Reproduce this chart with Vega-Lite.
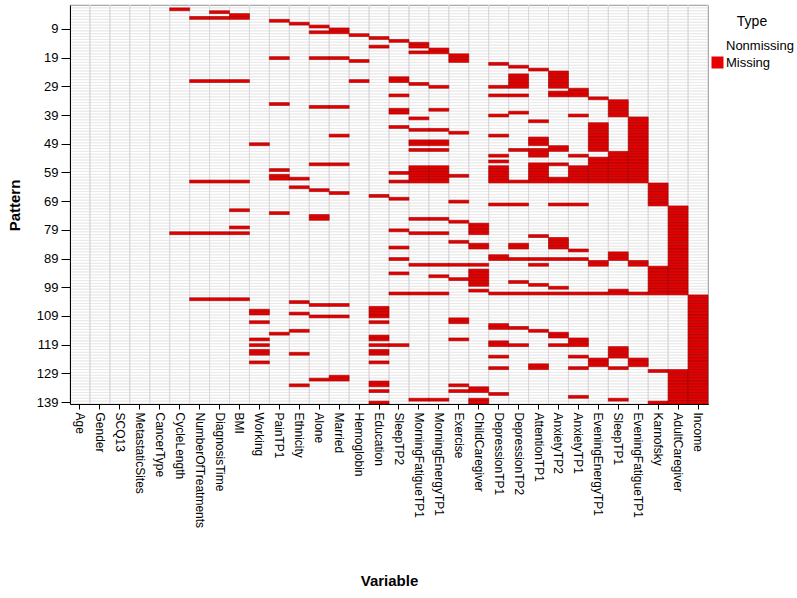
{
  "$schema": "https://vega.github.io/schema/vega-lite/v6.json",
  "width": 638,
  "height": 399,
  "autosize": {"type": "none"},
  "padding": {"left": 70, "top": 5, "right": 89, "bottom": 194},
  "background": "white",
  "config": {
    "font": "Liberation Sans",
    "view": {"stroke": "#333333", "strokeWidth": 1},
    "axis": {"domainColor": "#000000", "tickColor": "#000000", "labelColor": "#000000", "titleColor": "#000000", "grid": false}
  },
  "datasets": {
    "vars": [
      {"variable": "Age"}, {"variable": "Gender"}, {"variable": "SCQ13"}, {"variable": "MetastaticSites"},
      {"variable": "CancerType"}, {"variable": "CycleLength"}, {"variable": "NumberOfTreatments"}, {"variable": "DiagnosisTime"},
      {"variable": "BMI"}, {"variable": "Working"}, {"variable": "PainTP1"}, {"variable": "Ethnicity"},
      {"variable": "Alone"}, {"variable": "Married"}, {"variable": "Hemoglobin"}, {"variable": "Education"},
      {"variable": "SleepTP2"}, {"variable": "MorningFatigueTP1"}, {"variable": "MorningEnergyTP1"}, {"variable": "Exercise"},
      {"variable": "ChildCaregiver"}, {"variable": "DepressionTP1"}, {"variable": "DepressionTP2"}, {"variable": "AttentionTP1"},
      {"variable": "AnxietyTP2"}, {"variable": "AnxietyTP1"}, {"variable": "EveningEnergyTP1"}, {"variable": "SleepTP1"},
      {"variable": "EveningFatigueTP1"}, {"variable": "Karnofsky"}, {"variable": "AdultCaregiver"}, {"variable": "Income"}
    ],
    "patterns": [
      {"pattern": 1, "missing": []},
      {"pattern": 2, "missing": ["CycleLength"]},
      {"pattern": 3, "missing": ["DiagnosisTime"]},
      {"pattern": 4, "missing": ["BMI"]},
      {"pattern": 5, "missing": ["NumberOfTreatments","DiagnosisTime","BMI"]},
      {"pattern": 6, "missing": ["PainTP1"]},
      {"pattern": 7, "missing": ["Ethnicity"]},
      {"pattern": 8, "missing": ["Alone"]},
      {"pattern": 9, "missing": ["Married"]},
      {"pattern": 10, "missing": ["Alone","Married"]},
      {"pattern": 11, "missing": ["Hemoglobin"]},
      {"pattern": 12, "missing": ["Education"]},
      {"pattern": 13, "missing": ["SleepTP2"]},
      {"pattern": 14, "missing": ["MorningFatigueTP1"]},
      {"pattern": 15, "missing": ["Education","MorningFatigueTP1"]},
      {"pattern": 16, "missing": ["MorningEnergyTP1"]},
      {"pattern": 17, "missing": ["MorningFatigueTP1","MorningEnergyTP1"]},
      {"pattern": 18, "missing": ["Exercise"]},
      {"pattern": 19, "missing": ["PainTP1","Alone","Married","Exercise"]},
      {"pattern": 20, "missing": ["Hemoglobin","Exercise"]},
      {"pattern": 21, "missing": ["DepressionTP1"]},
      {"pattern": 22, "missing": ["DepressionTP2"]},
      {"pattern": 23, "missing": ["AttentionTP1"]},
      {"pattern": 24, "missing": ["AnxietyTP2"]},
      {"pattern": 25, "missing": ["DepressionTP2","AnxietyTP2"]},
      {"pattern": 26, "missing": ["SleepTP2","DepressionTP2","AnxietyTP2"]},
      {"pattern": 27, "missing": ["NumberOfTreatments","DiagnosisTime","BMI","Hemoglobin","SleepTP2","DepressionTP2","AnxietyTP2"]},
      {"pattern": 28, "missing": ["MorningFatigueTP1","DepressionTP2","AnxietyTP2"]},
      {"pattern": 29, "missing": ["MorningEnergyTP1","DepressionTP1","DepressionTP2","AnxietyTP2"]},
      {"pattern": 30, "missing": ["AnxietyTP1"]},
      {"pattern": 31, "missing": ["AnxietyTP2","AnxietyTP1"]},
      {"pattern": 32, "missing": ["SleepTP2","DepressionTP1","DepressionTP2","AnxietyTP2","AnxietyTP1"]},
      {"pattern": 33, "missing": ["EveningEnergyTP1"]},
      {"pattern": 34, "missing": ["SleepTP1"]},
      {"pattern": 35, "missing": ["PainTP1","SleepTP1"]},
      {"pattern": 36, "missing": ["Alone","Married","SleepTP1"]},
      {"pattern": 37, "missing": ["SleepTP2","MorningEnergyTP1","SleepTP1"]},
      {"pattern": 38, "missing": ["SleepTP2","DepressionTP2","SleepTP1"]},
      {"pattern": 39, "missing": ["DepressionTP1","AnxietyTP1","SleepTP1"]},
      {"pattern": 40, "missing": ["MorningFatigueTP1","EveningFatigueTP1"]},
      {"pattern": 41, "missing": ["AttentionTP1","EveningFatigueTP1"]},
      {"pattern": 42, "missing": ["EveningEnergyTP1","EveningFatigueTP1"]},
      {"pattern": 43, "missing": ["SleepTP2","EveningEnergyTP1","EveningFatigueTP1"]},
      {"pattern": 44, "missing": ["MorningFatigueTP1","MorningEnergyTP1","EveningEnergyTP1","EveningFatigueTP1"]},
      {"pattern": 45, "missing": ["Exercise","EveningEnergyTP1","EveningFatigueTP1"]},
      {"pattern": 46, "missing": ["Married","DepressionTP1","EveningEnergyTP1","EveningFatigueTP1"]},
      {"pattern": 47, "missing": ["AttentionTP1","EveningEnergyTP1","EveningFatigueTP1"]},
      {"pattern": 48, "missing": ["MorningFatigueTP1","MorningEnergyTP1","AttentionTP1","EveningEnergyTP1","EveningFatigueTP1"]},
      {"pattern": 49, "missing": ["Working","MorningFatigueTP1","MorningEnergyTP1","AttentionTP1","EveningEnergyTP1","EveningFatigueTP1"]},
      {"pattern": 50, "missing": ["AnxietyTP2","EveningEnergyTP1","EveningFatigueTP1"]},
      {"pattern": 51, "missing": ["MorningFatigueTP1","MorningEnergyTP1","DepressionTP2","AttentionTP1","AnxietyTP2","EveningEnergyTP1","EveningFatigueTP1"]},
      {"pattern": 52, "missing": ["AttentionTP1","SleepTP1","EveningFatigueTP1"]},
      {"pattern": 53, "missing": ["DepressionTP1","AttentionTP1","AnxietyTP1","SleepTP1","EveningFatigueTP1"]},
      {"pattern": 54, "missing": ["EveningEnergyTP1","SleepTP1","EveningFatigueTP1"]},
      {"pattern": 55, "missing": ["DepressionTP1","EveningEnergyTP1","SleepTP1","EveningFatigueTP1"]},
      {"pattern": 56, "missing": ["Alone","Married","AttentionTP1","AnxietyTP2","EveningEnergyTP1","SleepTP1","EveningFatigueTP1"]},
      {"pattern": 57, "missing": ["MorningFatigueTP1","MorningEnergyTP1","DepressionTP1","AttentionTP1","AnxietyTP1","EveningEnergyTP1","SleepTP1","EveningFatigueTP1"]},
      {"pattern": 58, "missing": ["PainTP1","MorningFatigueTP1","MorningEnergyTP1","DepressionTP1","AttentionTP1","AnxietyTP1","EveningEnergyTP1","SleepTP1","EveningFatigueTP1"]},
      {"pattern": 59, "missing": ["SleepTP2","MorningFatigueTP1","MorningEnergyTP1","DepressionTP1","AttentionTP1","AnxietyTP1","EveningEnergyTP1","SleepTP1","EveningFatigueTP1"]},
      {"pattern": 60, "missing": ["PainTP1","MorningFatigueTP1","MorningEnergyTP1","Exercise","DepressionTP1","AttentionTP1","AnxietyTP1","EveningEnergyTP1","SleepTP1","EveningFatigueTP1"]},
      {"pattern": 61, "missing": ["PainTP1","Ethnicity","MorningFatigueTP1","MorningEnergyTP1","DepressionTP1","AttentionTP1","AnxietyTP2","AnxietyTP1","EveningEnergyTP1","SleepTP1","EveningFatigueTP1"]},
      {"pattern": 62, "missing": ["NumberOfTreatments","DiagnosisTime","BMI","SleepTP2","MorningFatigueTP1","MorningEnergyTP1","DepressionTP1","DepressionTP2","AttentionTP1","AnxietyTP2","AnxietyTP1","EveningEnergyTP1","SleepTP1","EveningFatigueTP1"]},
      {"pattern": 63, "missing": ["Karnofsky"]},
      {"pattern": 64, "missing": ["Ethnicity","Karnofsky"]},
      {"pattern": 65, "missing": ["Alone","Karnofsky"]},
      {"pattern": 66, "missing": ["Married","Karnofsky"]},
      {"pattern": 67, "missing": ["Education","Karnofsky"]},
      {"pattern": 68, "missing": ["SleepTP2","Karnofsky"]},
      {"pattern": 69, "missing": ["Exercise","Karnofsky"]},
      {"pattern": 70, "missing": ["DepressionTP1","DepressionTP2","AnxietyTP2","AnxietyTP1","Karnofsky"]},
      {"pattern": 71, "missing": ["AdultCaregiver"]},
      {"pattern": 72, "missing": ["BMI","AdultCaregiver"]},
      {"pattern": 73, "missing": ["PainTP1","AdultCaregiver"]},
      {"pattern": 74, "missing": ["Alone","AdultCaregiver"]},
      {"pattern": 75, "missing": ["Alone","MorningFatigueTP1","MorningEnergyTP1","AdultCaregiver"]},
      {"pattern": 76, "missing": ["Exercise","AdultCaregiver"]},
      {"pattern": 77, "missing": ["ChildCaregiver","AdultCaregiver"]},
      {"pattern": 78, "missing": ["BMI","ChildCaregiver","AdultCaregiver"]},
      {"pattern": 79, "missing": ["SleepTP2","ChildCaregiver","AdultCaregiver"]},
      {"pattern": 80, "missing": ["CycleLength","NumberOfTreatments","DiagnosisTime","BMI","MorningFatigueTP1","MorningEnergyTP1","ChildCaregiver","AdultCaregiver"]},
      {"pattern": 81, "missing": ["AttentionTP1","AdultCaregiver"]},
      {"pattern": 82, "missing": ["AnxietyTP2","AdultCaregiver"]},
      {"pattern": 83, "missing": ["Exercise","AnxietyTP2","AdultCaregiver"]},
      {"pattern": 84, "missing": ["ChildCaregiver","DepressionTP2","AnxietyTP2","AdultCaregiver"]},
      {"pattern": 85, "missing": ["SleepTP2","ChildCaregiver","DepressionTP2","AnxietyTP2","AdultCaregiver"]},
      {"pattern": 86, "missing": ["AnxietyTP1","AdultCaregiver"]},
      {"pattern": 87, "missing": ["SleepTP1","AdultCaregiver"]},
      {"pattern": 88, "missing": ["DepressionTP1","SleepTP1","AdultCaregiver"]},
      {"pattern": 89, "missing": ["SleepTP2","DepressionTP1","DepressionTP2","AttentionTP1","AnxietyTP2","AnxietyTP1","SleepTP1","AdultCaregiver"]},
      {"pattern": 90, "missing": ["EveningEnergyTP1","EveningFatigueTP1","AdultCaregiver"]},
      {"pattern": 91, "missing": ["MorningFatigueTP1","MorningEnergyTP1","Exercise","ChildCaregiver","AttentionTP1","EveningEnergyTP1","EveningFatigueTP1","AdultCaregiver"]},
      {"pattern": 92, "missing": ["Karnofsky","AdultCaregiver"]},
      {"pattern": 93, "missing": ["ChildCaregiver","Karnofsky","AdultCaregiver"]},
      {"pattern": 94, "missing": ["SleepTP2","ChildCaregiver","Karnofsky","AdultCaregiver"]},
      {"pattern": 95, "missing": ["MorningEnergyTP1","ChildCaregiver","Karnofsky","AdultCaregiver"]},
      {"pattern": 96, "missing": ["Exercise","ChildCaregiver","Karnofsky","AdultCaregiver"]},
      {"pattern": 97, "missing": ["DepressionTP2","ChildCaregiver","Karnofsky","AdultCaregiver"]},
      {"pattern": 98, "missing": ["AttentionTP1","ChildCaregiver","Karnofsky","AdultCaregiver"]},
      {"pattern": 99, "missing": ["AnxietyTP2","Karnofsky","AdultCaregiver"]},
      {"pattern": 100, "missing": ["ChildCaregiver","SleepTP1","Karnofsky","AdultCaregiver"]},
      {"pattern": 101, "missing": ["SleepTP2","MorningFatigueTP1","MorningEnergyTP1","DepressionTP1","DepressionTP2","AttentionTP1","AnxietyTP2","AnxietyTP1","EveningEnergyTP1","SleepTP1","EveningFatigueTP1","Karnofsky","AdultCaregiver"]},
      {"pattern": 102, "missing": ["Income"]},
      {"pattern": 103, "missing": ["NumberOfTreatments","DiagnosisTime","BMI","Income"]},
      {"pattern": 104, "missing": ["Ethnicity","Income"]},
      {"pattern": 105, "missing": ["Alone","Married","Income"]},
      {"pattern": 106, "missing": ["Education","Income"]},
      {"pattern": 107, "missing": ["Working","Education","Income"]},
      {"pattern": 108, "missing": ["Working","Ethnicity","Education","Income"]},
      {"pattern": 109, "missing": ["Alone","Married","Education","Income"]},
      {"pattern": 110, "missing": ["Exercise","Income"]},
      {"pattern": 111, "missing": ["Working","Education","Exercise","Income"]},
      {"pattern": 112, "missing": ["DepressionTP1","Income"]},
      {"pattern": 113, "missing": ["DepressionTP1","DepressionTP2","Income"]},
      {"pattern": 114, "missing": ["Ethnicity","AttentionTP1","Income"]},
      {"pattern": 115, "missing": ["PainTP1","AnxietyTP2","Income"]},
      {"pattern": 116, "missing": ["Education","AnxietyTP2","Income"]},
      {"pattern": 117, "missing": ["Working","Education","Exercise","AnxietyTP1","Income"]},
      {"pattern": 118, "missing": ["DepressionTP1","AnxietyTP1","Income"]},
      {"pattern": 119, "missing": ["Working","Education","SleepTP2","DepressionTP1","DepressionTP2","AnxietyTP2","AnxietyTP1","Income"]},
      {"pattern": 120, "missing": ["SleepTP1","Income"]},
      {"pattern": 121, "missing": ["Working","Education","SleepTP1","Income"]},
      {"pattern": 122, "missing": ["Working","Ethnicity","Education","SleepTP1","Income"]},
      {"pattern": 123, "missing": ["DepressionTP1","AnxietyTP1","SleepTP1","Income"]},
      {"pattern": 124, "missing": ["EveningEnergyTP1","EveningFatigueTP1","Income"]},
      {"pattern": 125, "missing": ["Working","Education","EveningEnergyTP1","EveningFatigueTP1","Income"]},
      {"pattern": 126, "missing": ["AttentionTP1","EveningEnergyTP1","EveningFatigueTP1","Income"]},
      {"pattern": 127, "missing": ["DepressionTP1","AttentionTP1","AnxietyTP1","SleepTP1","Income"]},
      {"pattern": 128, "missing": ["Karnofsky","AdultCaregiver","Income"]},
      {"pattern": 129, "missing": ["AdultCaregiver","Income"]},
      {"pattern": 130, "missing": ["Married","AdultCaregiver","Income"]},
      {"pattern": 131, "missing": ["Alone","Married","AdultCaregiver","Income"]},
      {"pattern": 132, "missing": ["Education","AdultCaregiver","Income"]},
      {"pattern": 133, "missing": ["Ethnicity","Education","Exercise","AdultCaregiver","Income"]},
      {"pattern": 134, "missing": ["ChildCaregiver","AdultCaregiver","Income"]},
      {"pattern": 135, "missing": ["Education","Exercise","ChildCaregiver","AdultCaregiver","Income"]},
      {"pattern": 136, "missing": ["DepressionTP1","AdultCaregiver","Income"]},
      {"pattern": 137, "missing": ["AnxietyTP1","AdultCaregiver","Income"]},
      {"pattern": 138, "missing": ["MorningFatigueTP1","MorningEnergyTP1","ChildCaregiver","SleepTP1","AdultCaregiver","Income"]},
      {"pattern": 139, "missing": ["Education","ChildCaregiver","Karnofsky","AdultCaregiver","Income"]}
    ]
  },
  "layer": [
    {
      "data": {"name": "patterns"},
      "mark": {"type": "rect", "fillOpacity": 0, "stroke": "#e9e9e9", "strokeWidth": 0.8},
      "encoding": {
        "y": {
          "field": "pattern", "type": "ordinal",
          "scale": {"paddingInner": 0, "paddingOuter": 0},
          "axis": {
            "title": "Pattern",
            "values": [9, 19, 29, 39, 49, 59, 69, 79, 89, 99, 109, 119, 129, 139],
            "labelFontSize": 13, "tickSize": 9, "labelPadding": 3,
            "titleFontSize": 15, "titleFontWeight": "bold",
            "titleX": -56, "titleY": 200, "titleAlign": "center", "titleBaseline": "middle", "titleAngle": -90
          }
        }
      }
    },
    {
      "data": {"name": "vars"},
      "mark": {"type": "rect", "fillOpacity": 0, "stroke": "#dcd7dc", "strokeWidth": 1},
      "encoding": {
        "x": {
          "field": "variable", "type": "nominal",
          "scale": {"paddingInner": 0, "paddingOuter": 0, "domain": ["Age","Gender","SCQ13","MetastaticSites","CancerType","CycleLength","NumberOfTreatments","DiagnosisTime","BMI","Working","PainTP1","Ethnicity","Alone","Married","Hemoglobin","Education","SleepTP2","MorningFatigueTP1","MorningEnergyTP1","Exercise","ChildCaregiver","DepressionTP1","DepressionTP2","AttentionTP1","AnxietyTP2","AnxietyTP1","EveningEnergyTP1","SleepTP1","EveningFatigueTP1","Karnofsky","AdultCaregiver","Income"]},
          "axis": {
            "title": "Variable", "labelAngle": 90, "labelFontSize": 12, "tickSize": 5, "labelPadding": 3,
            "titleFontSize": 15, "titleFontWeight": "bold", "titleY": 176, "titleBaseline": "middle"
          }
        }
      }
    },
    {
      "data": {"name": "patterns"},
      "transform": [{"flatten": ["missing"], "as": ["variable"]}],
      "mark": {"type": "rect", "stroke": "#9a0000", "strokeWidth": 0.6},
      "encoding": {
        "x": {"field": "variable", "type": "nominal"},
        "y": {"field": "pattern", "type": "ordinal"},
        "color": {
          "datum": "Missing", "type": "nominal",
          "scale": {"domain": ["Nonmissing", "Missing"], "range": ["#ffffff", "#e60000"]},
          "legend": {
            "title": "Type", "orient": "none", "legendX": 641, "legendY": 10,
            "titleFontSize": 14, "titleFontWeight": "normal", "titleAnchor": "middle", "titleColor": "#000000",
            "titlePadding": 10, "labelFontSize": 13, "labelColor": "#000000", "labelOffset": 2,
            "symbolType": "square", "symbolSize": 144, "symbolStrokeWidth": 0, "rowPadding": 3
          }
        }
      }
    }
  ]
}
